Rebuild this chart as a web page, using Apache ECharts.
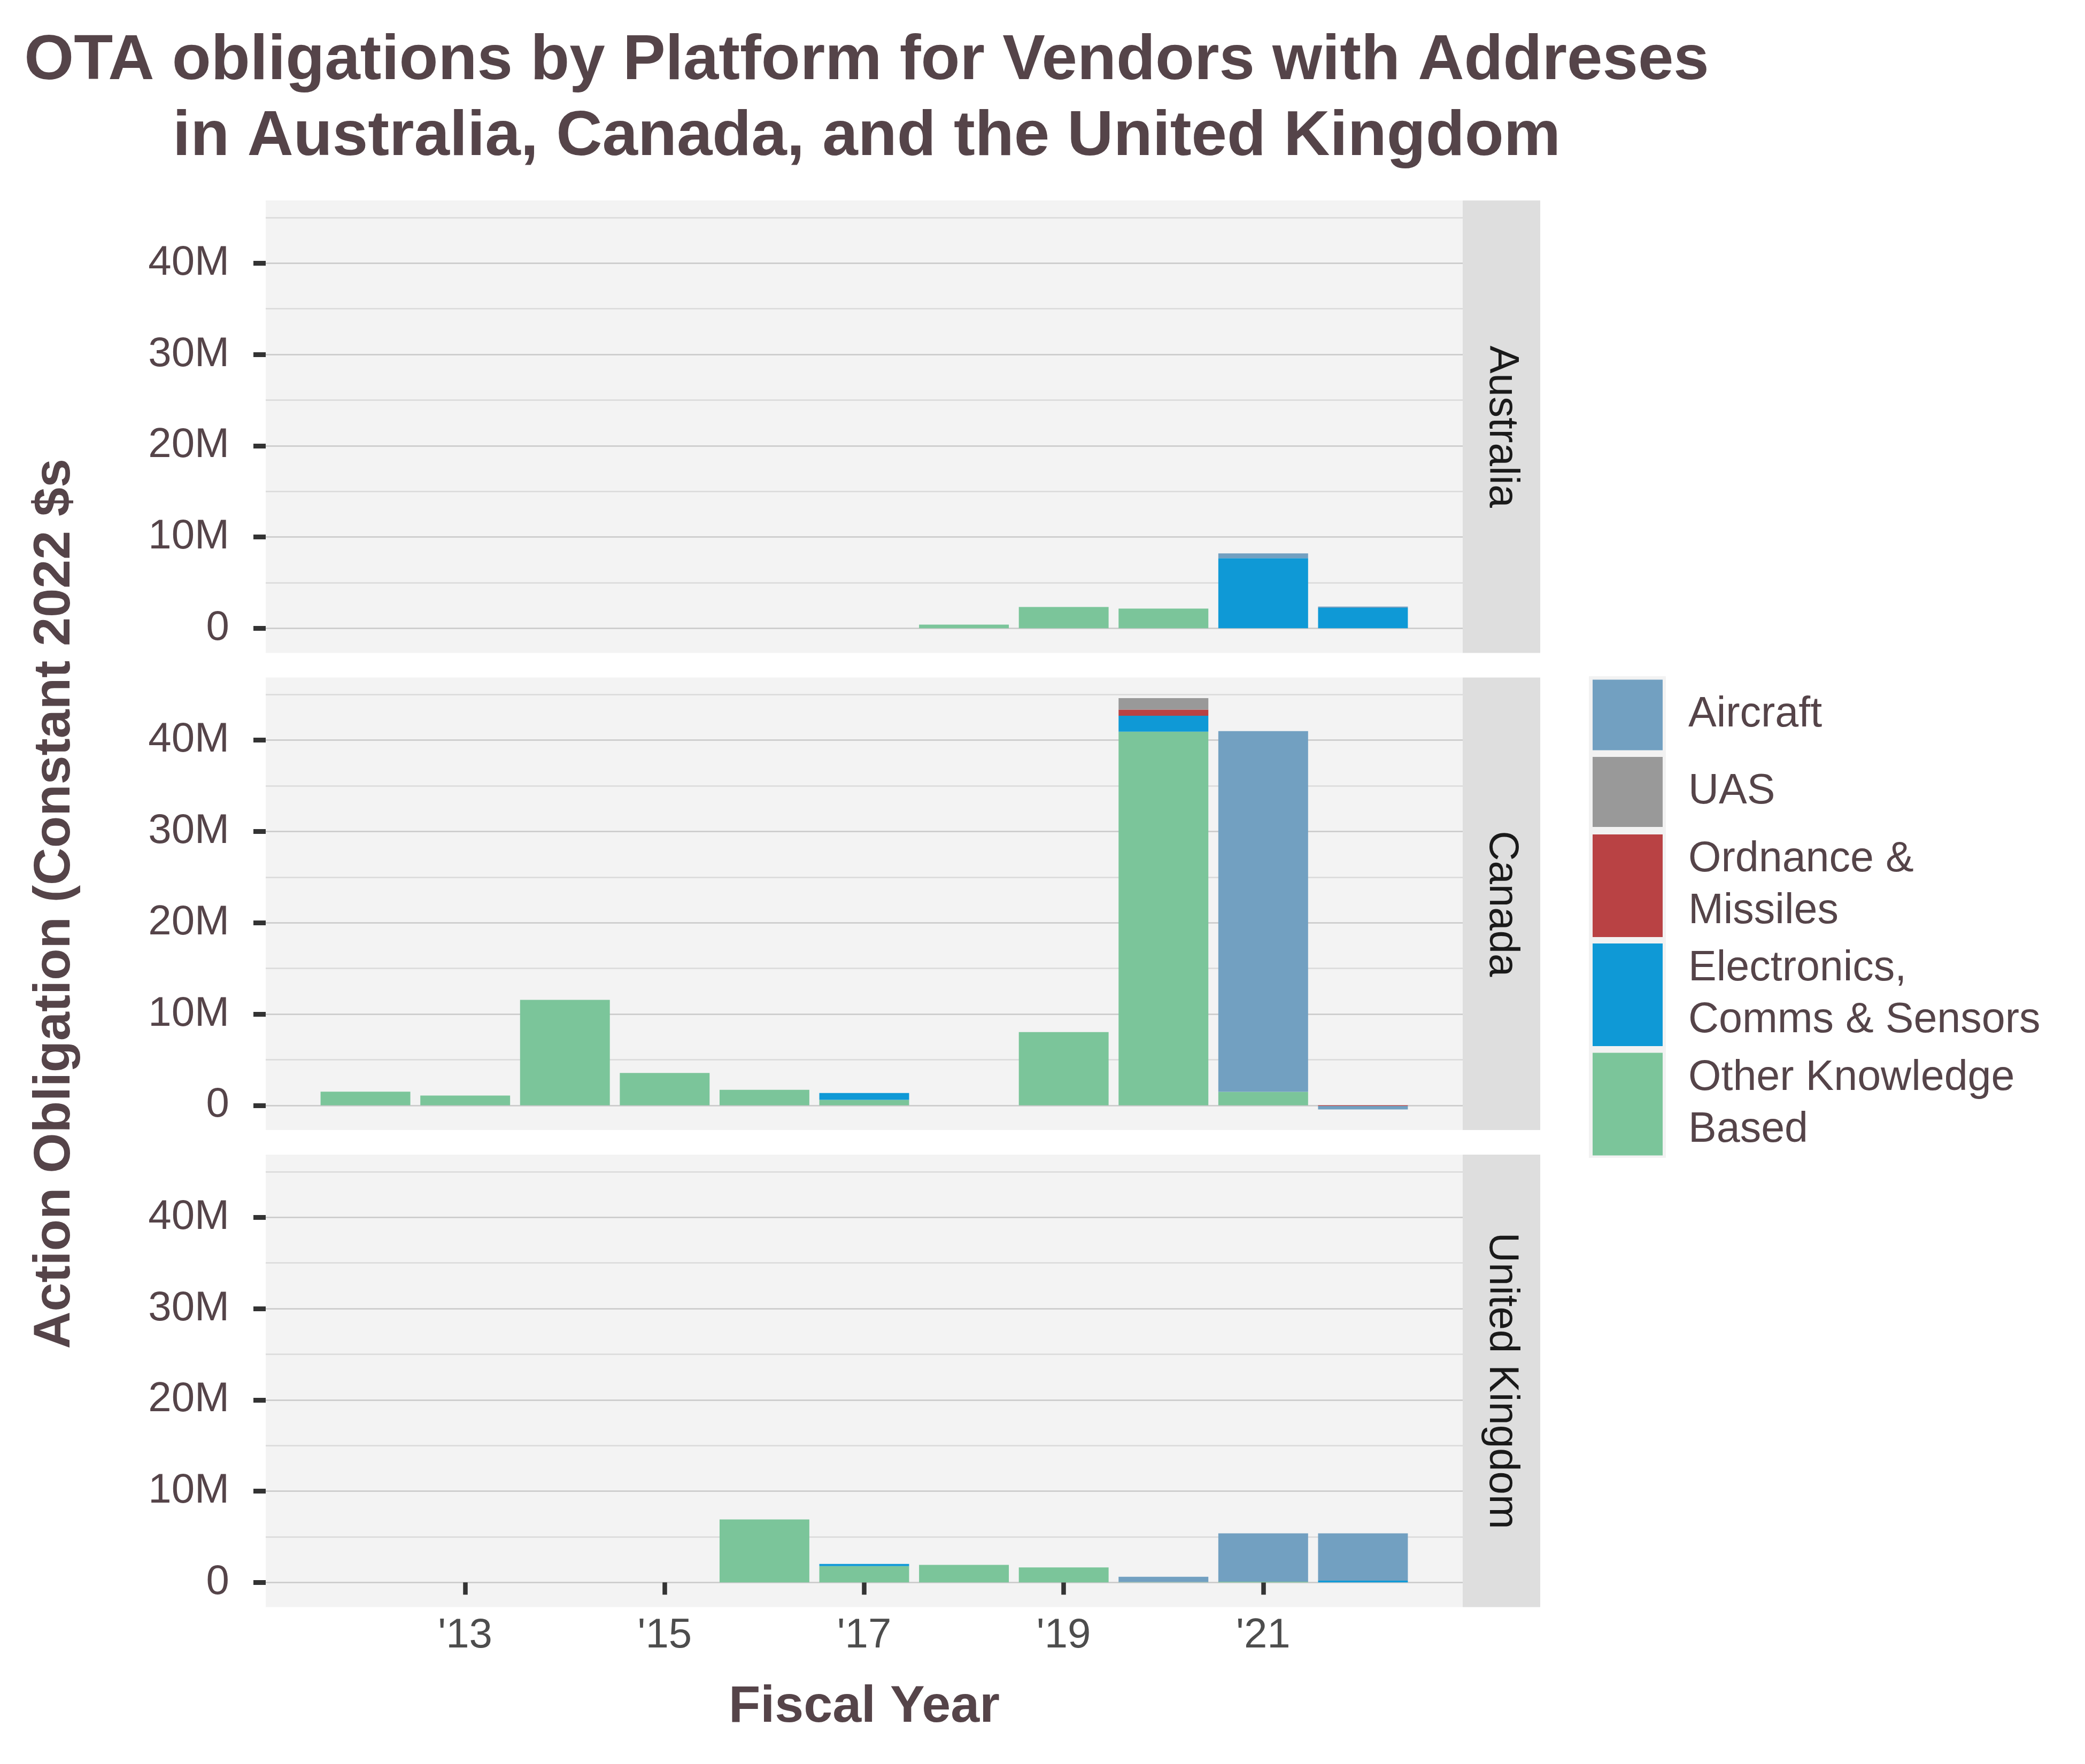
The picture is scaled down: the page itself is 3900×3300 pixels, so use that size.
<!DOCTYPE html>
<html>
<head>
<meta charset="utf-8">
<script src="https://cdn.jsdelivr.net/npm/echarts@6/dist/echarts.min.js"></script>
<style>html,body{margin:0;padding:0;background:#fff;}#c{width:3900px;height:3300px;}</style>
</head>
<body>
<div id="c"></div>
<script>
// ---------------- DATA (values in millions of constant 2022 $) ----------------
const years = [2012, 2013, 2014, 2015, 2016, 2017, 2018, 2019, 2020, 2021, 2022];
const countries = ['Australia', 'Canada', 'United Kingdom'];
const platforms = ['Aircraft', 'UAS', 'Ordnance & Missiles', 'Electronics, Comms & Sensors', 'Other Knowledge Based'];
const legendLabels = ['Aircraft', 'UAS', 'Ordnance &\nMissiles', 'Electronics,\nComms & Sensors', 'Other Knowledge\nBased'];
const xTickYears = [2013, 2015, 2017, 2019, 2021];
const yMajorTicks = [0, 10, 20, 30, 40];
const yMinorTicks = [5, 15, 25, 35, 45];

const australiaAircraft    = [0, 0, 0, 0, 0, 0, 0, 0, 0, 0.54, 0.13];
const australiaUAS         = [0, 0, 0, 0, 0, 0, 0, 0, 0, 0, 0];
const australiaOrdnance    = [0, 0, 0, 0, 0, 0, 0, 0, 0, 0, 0];
const australiaElectronics = [0, 0, 0, 0, 0, 0, 0, 0, 0, 7.67, 2.24];
const australiaOther       = [0, 0, 0, 0, 0, 0, 0.40, 2.33, 2.15, 0, 0];

const canadaAircraft    = [0, 0, 0, 0, 0, 0, 0, 0, 0, 39.51, -0.38];
const canadaUAS         = [0, 0, 0, 0, 0, 0, 0, 0, 1.26, 0, 0];
const canadaOrdnance    = [0, 0, 0, 0, 0, 0, 0, 0, 0.68, 0, -0.07];
const canadaElectronics = [0, 0, 0, 0, 0, 0.74, 0, 0, 1.74, 0, 0];
const canadaOther       = [1.50, 1.07, 11.56, 3.55, 1.70, 0.61, 0, 8.02, 40.93, 1.48, 0];

const ukAircraft    = [0, 0, 0, 0, 0, 0, 0, 0, 0.57, 5.30, 5.19];
const ukUAS         = [0, 0, 0, 0, 0, 0, 0, 0, 0, 0, 0];
const ukOrdnance    = [0, 0, 0, 0, 0, 0, 0, 0, 0, 0, 0];
const ukElectronics = [0, 0, 0, 0, 0, 0.23, 0, 0, 0, 0, 0.19];
const ukOther       = [0, 0, 0, 0, 6.90, 1.79, 1.93, 1.64, 0.05, 0.08, 0];

const seriesByCountry = [
  [australiaAircraft, australiaUAS, australiaOrdnance, australiaElectronics, australiaOther],
  [canadaAircraft, canadaUAS, canadaOrdnance, canadaElectronics, canadaOther],
  [ukAircraft, ukUAS, ukOrdnance, ukElectronics, ukOther]
];

// ---------------- STYLE ----------------
const colors = ['#72A0C1', '#999999', '#B94244', '#0F99D6', '#7BC59A'];
const FONT = "'Liberation Sans', Arial, Helvetica, sans-serif";
const TXT = '#554449';

const gridLeft = 497, gridWidth = 2239, gridHeight = 846.5;
const gridTops = [375, 1267.5, 2160];
const stripWidth = 145;

// y range like ggplot (5% expansion of stacked data range)
let dMax = -Infinity, dMin = Infinity;
seriesByCountry.forEach(arrs => {
  years.forEach((y, i) => {
    let pos = 0, neg = 0;
    arrs.forEach(a => { if (a[i] > 0) pos += a[i]; else neg += a[i]; });
    dMax = Math.max(dMax, pos); dMin = Math.min(dMin, neg);
  });
});
const span = dMax - dMin;
const yMin = dMin - 0.05 * span, yMax = dMax + 0.05 * span;

// x categories: one empty year of padding on each side, axis edges on those points
const xCats = [years[0] - 1].concat(years, [years[years.length - 1] + 1]).map(String);
const isTickYear = (idx, val) => xTickYears.indexOf(Number(val)) >= 0;
const pad = arr => [null].concat(arr, [null]);

const grid = [], xAxis = [], yAxis = [], series = [], graphic = [];
countries.forEach((c, f) => {
  const isBottom = f === countries.length - 1;
  grid.push({ left: gridLeft, top: gridTops[f], width: gridWidth, height: gridHeight,
    show: true, backgroundColor: '#F3F3F3', borderWidth: 0, containLabel: false });
  xAxis.push({
    type: 'category', gridIndex: f, data: xCats, boundaryGap: false,
    axisLine: { show: false },
    splitLine: { show: false },
    axisTick: { show: isBottom, interval: isTickYear, length: 23, lineStyle: { color: '#333333', width: 8.5 } },
    axisLabel: { show: isBottom, interval: isTickYear, margin: 15, fontSize: 78, fontFamily: FONT, color: '#4D4D4D',
      formatter: v => "'" + String(v).slice(2) },
    name: isBottom ? 'Fiscal Year' : '', nameLocation: 'middle', nameGap: 139,
    nameTextStyle: { fontSize: 97, fontWeight: 'bold', fontFamily: FONT, color: TXT }
  });
  yAxis.push({
    type: 'value', gridIndex: f, min: yMin, max: yMax,
    axisLine: { show: false },
    axisTick: { show: true, customValues: yMajorTicks, length: 23, lineStyle: { color: '#333333', width: 9 } },
    axisLabel: { customValues: yMajorTicks, margin: 68, fontSize: 78, fontFamily: FONT, color: TXT,
      formatter: v => v === 0 ? '0' : v + 'M' },
    splitLine: { show: true, lineStyle: { color: '#C8C8C8', width: 2.5 } },
    name: f === 1 ? 'Action Obligation (Constant 2022 $s' : '', nameLocation: 'middle', nameGap: 345, nameRotate: 90,
    nameTextStyle: { fontSize: 97, fontWeight: 'bold', fontFamily: FONT, color: TXT }
  });
  yAxis.push({
    type: 'value', gridIndex: f, min: yMin, max: yMax, position: 'right',
    axisLine: { show: false },
    axisTick: { show: false, customValues: yMinorTicks },
    axisLabel: { show: false, customValues: yMinorTicks },
    splitLine: { show: true, lineStyle: { color: '#DADADA', width: 2.5 } }
  });
  // stack bottom -> top: Other, Electronics, Ordnance, UAS, Aircraft
  for (let p = platforms.length - 1; p >= 0; p--) {
    series.push({
      type: 'bar', name: platforms[p], xAxisIndex: f, yAxisIndex: 2 * f, stack: 'c' + f,
      barWidth: '90%',
      itemStyle: { color: colors[p] },
      emphasis: { disabled: true },
      data: pad(seriesByCountry[f][p])
    });
  }
  // facet strip
  graphic.push({ type: 'rect', left: gridLeft + gridWidth, top: gridTops[f],
    shape: { width: stripWidth, height: gridHeight }, style: { fill: '#DEDEDE' }, silent: true });
  graphic.push({ type: 'text', x: gridLeft + gridWidth + stripWidth / 2, y: gridTops[f] + gridHeight / 2,
    rotation: -Math.PI / 2,
    style: { text: c, fontSize: 78, fontFamily: FONT, fill: '#1A1A1A', align: 'center', verticalAlign: 'middle' }, silent: true });
});

// legend key background
graphic.push({ type: 'rect', left: 2972, top: 1265, shape: { width: 144, height: 901 }, style: { fill: '#F2F2F2' }, silent: true, z: -1 });

const legendTops = [1271.5, 1416, 1560, 1764, 1968.5];
const legendHeights = [132, 131, 192, 192, 192];
const legend = platforms.map((p, i) => ({
  data: [p], left: 2979, top: legendTops[i], orient: 'vertical', padding: 0,
  itemWidth: 131, itemHeight: legendHeights[i], icon: 'rect',
  formatter: () => legendLabels[i],
  textStyle: { fontSize: 79, lineHeight: 97, fontFamily: FONT, color: TXT, padding: [0, 0, 0, 43] }
}));

const chart = echarts.init(document.getElementById('c'), null, { renderer: 'canvas' });
chart.setOption({
  backgroundColor: '#FFFFFF',
  animation: false,
  title: {
    text: 'OTA obligations by Platform for Vendors with Addreses\nin Australia, Canada, and the United Kingdom',
    left: 1616, top: 39, textAlign: 'center',
    textStyle: { fontSize: 119.5, fontWeight: 'bold', fontFamily: FONT, color: TXT, lineHeight: 142 }
  },
  legend, grid, xAxis, yAxis, series, graphic
});
</script>
</body>
</html>
